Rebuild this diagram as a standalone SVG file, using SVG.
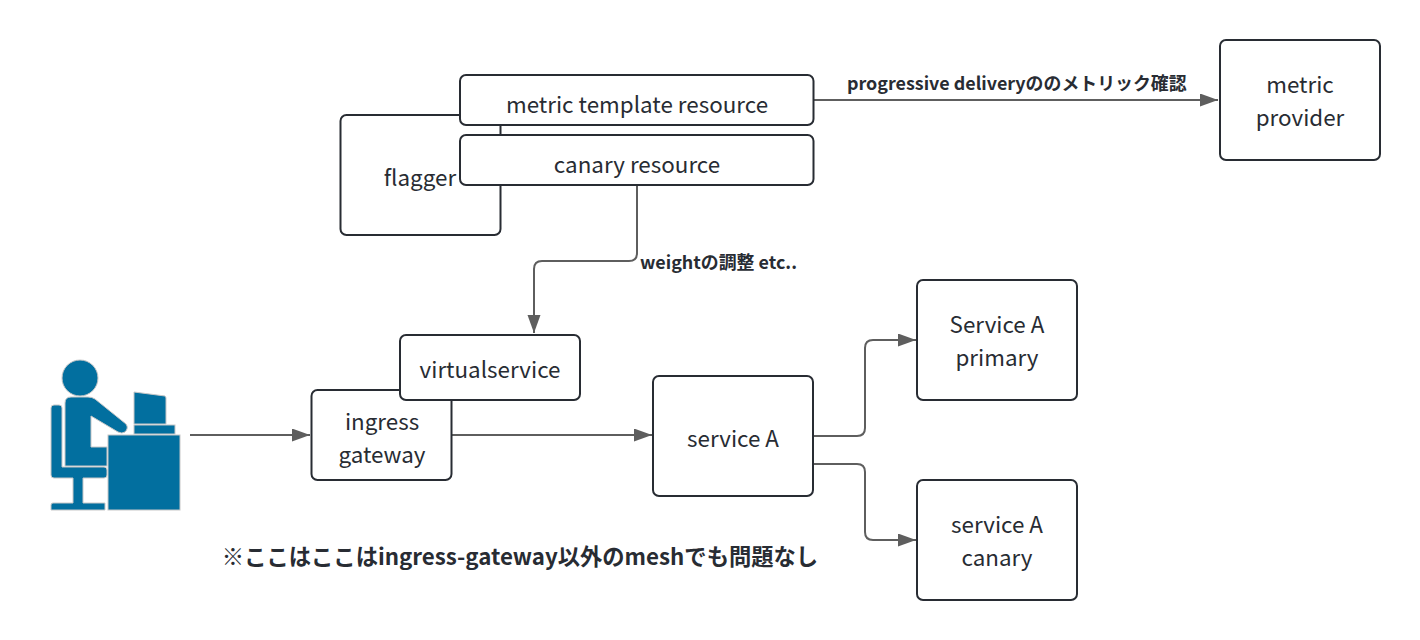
<svg xmlns="http://www.w3.org/2000/svg" width="1420" height="640" viewBox="0 0 1420 640">
<style>
.n{fill:#fff;stroke:#282c33;stroke-width:2}
text{font-family:"Noto Sans CJK JP","Noto Sans",sans-serif;fill:#282c33;text-anchor:middle}
.t{font-size:22.4px}
.l{font-size:17.9px;font-weight:700;text-anchor:start}
.c{fill:none;stroke:#5e5e5e;stroke-width:2}
.i{fill:#026f9f;stroke:#c8c8c8;stroke-width:1}
</style>
<defs><marker id="a" markerUnits="userSpaceOnUse" markerWidth="20" markerHeight="14" refX="18" refY="6.5" orient="auto"><path d="M0 0L18 6.5L0 13Z" fill="#5e5e5e"/></marker></defs>
<rect width="1420" height="640" fill="#fff"/>
<g id="connectors">
<path class="c" marker-end="url(#a)" d="M814 100H1218"/>
<path class="c" marker-end="url(#a)" d="M637 185V253Q637 261 629 261H542Q534 261 534 269V333"/>
<path class="c" marker-end="url(#a)" d="M190 435H310"/>
<path class="c" marker-end="url(#a)" d="M452 435H652"/>
<path class="c" marker-end="url(#a)" d="M814 436H857Q865 436 865 428V348Q865 340 873 340H916"/>
<path class="c" marker-end="url(#a)" d="M814 464H857Q865 464 865 472V532Q865 540 873 540H916"/>
</g>
<g id="flagger"><rect class="n" x="340.500" y="115" width="160" height="120" rx="6"/><text class="t" x="420" y="186">flagger</text></g>
<g id="metric-template"><rect class="n" x="460" y="75" width="353.500" height="50" rx="6"/><text class="t" x="637" y="113">metric template resource</text></g>
<g id="canary-resource"><rect class="n" x="460" y="135" width="353.500" height="50" rx="6"/><text class="t" x="637" y="173">canary resource</text></g>
<g id="metric-provider"><rect class="n" x="1220" y="40" width="160" height="120" rx="6"/><text class="t" x="1300" y="93">metric</text><text class="t" x="1300" y="126">provider</text></g>
<g id="ingress-gateway"><rect class="n" x="311.500" y="390" width="140" height="90" rx="6"/><text class="t" x="382" y="430">ingress</text><text class="t" x="382" y="463">gateway</text></g>
<g id="virtualservice"><rect class="n" x="400" y="335" width="180" height="65" rx="6"/><text class="t" x="490" y="378">virtualservice</text></g>
<g id="service-a"><rect class="n" x="653" y="376" width="160" height="120" rx="6"/><text class="t" x="733" y="447">service A</text></g>
<g id="service-a-primary"><rect class="n" x="917" y="280" width="160" height="120" rx="6"/><text class="t" x="997" y="333">Service A</text><text class="t" x="997" y="366">primary</text></g>
<g id="service-a-canary"><rect class="n" x="917" y="480" width="160" height="120" rx="6"/><text class="t" x="997" y="533">service A</text><text class="t" x="997" y="566">canary</text></g>
<g id="user">
<circle class="i" cx="80" cy="378" r="18"/>
<path class="i" d="M65 403Q65 397 71 397H88Q92 397 95 399L126 424Q129 428 125 432Q122 434 118 432L91 416V447H107V466H65Z"/>
<path class="i" d="M51 408Q51 405 54 405H59Q62 405 62 408V467H104Q107 467 107 470V475Q107 478 104 478H83V503H105V510H51V505Q51 503 53 503H73V478H54Q51 478 51 475Z"/>
<path class="i" d="M134 392L165 396Q166 397 166 398V424H134Z"/>
<rect class="i" x="134" y="425" width="41" height="9"/>
<rect class="i" x="108" y="435" width="72" height="75"/>
</g>
<g id="labels">
<text class="l" x="847" y="90">progressive deliveryののメトリック確認</text>
<text class="l" x="640" y="269">weightの調整 etc..</text>
<text x="520" y="565" style="font-size:22.3px;font-weight:700">※ここはここはingress-gateway以外のmeshでも問題なし</text>
</g>
</svg>
